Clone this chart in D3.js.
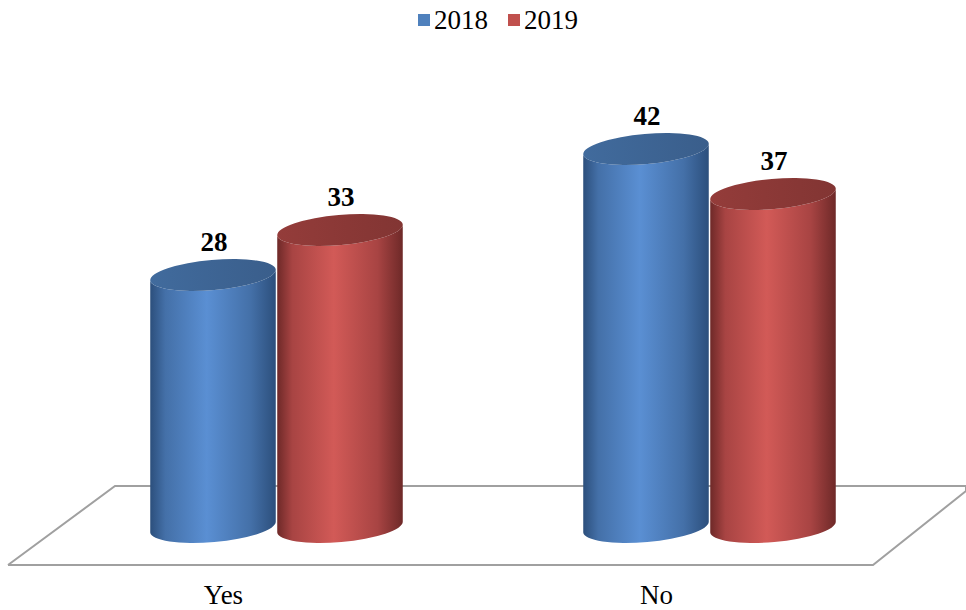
<!DOCTYPE html>
<html>
<head>
<meta charset="utf-8">
<script src="https://cdn.jsdelivr.net/npm/d3@7"></script>
<style>
  body { margin: 0; background: #fff; }
  svg text { font-family: "Liberation Serif", "Times New Roman", serif; }
</style>
</head>
<body>
<div id="chart"></div>
<script>
// data
const categories = ['Yes', 'No'];
const series = ['2018', '2019'];
const values2018 = [28, 42];
const values2019 = [33, 37];

const width = 966, height = 610;
const colors = {
  '2018': { dark: '#2c4f7c', light: '#5a8fd3', mid: '#4470a8', top: '#3e6595', legend: '#4f81bd' },
  '2019': { dark: '#6e2928', light: '#d25a57', mid: '#a84443', top: '#8c3937', legend: '#c0504d' }
};

const svg = d3.select('#chart').append('svg')
  .attr('width', width).attr('height', height);

const defs = svg.append('defs');
series.forEach(s => {
  const c = colors[s];
  const g = defs.append('linearGradient').attr('id', 'body' + s)
    .attr('x1', '0%').attr('x2', '100%').attr('y1', '0%').attr('y2', '0%');
  g.append('stop').attr('offset', '0%').attr('stop-color', c.dark);
  g.append('stop').attr('offset', '12%').attr('stop-color', c.mid);
  g.append('stop').attr('offset', '45%').attr('stop-color', c.light);
  g.append('stop').attr('offset', '80%').attr('stop-color', c.mid);
  g.append('stop').attr('offset', '100%').attr('stop-color', c.dark);
  const t = defs.append('linearGradient').attr('id', 'top' + s)
    .attr('x1', '0%').attr('x2', '100%').attr('y1', '0%').attr('y2', '0%');
  t.append('stop').attr('offset', '0%').attr('stop-color', d3.color(c.top).brighter(0.15));
  t.append('stop').attr('offset', '100%').attr('stop-color', d3.color(c.top).darker(0.2));
});

// scales
const x0 = d3.scaleBand().domain(categories).range([60, 926]);
const x1 = d3.scaleBand().domain(series).range([-127, 127]);
const baseY = 527;
const y = d3.scaleLinear().domain([0, 1]).range([0, 9]); // px per unit

// floor
const floor = [[8, 565], [873, 565], [966, 491], [966, 486], [115, 486], [8, 565]];
svg.append('path')
  .attr('d', d3.line()(floor))
  .attr('fill', 'none').attr('stroke', '#a0a0a0').attr('stroke-width', 2);

const rx = 63, ry = 15, tilt = -5;
const rad = tilt * Math.PI / 180;
const cosT = Math.cos(rad), sinT = Math.sin(rad);

function cylinder(g, cx, topY, botY, s) {
  const lx = cx - rx * cosT, rxp = cx + rx * cosT;
  const ldy = -rx * sinT, rdy = rx * sinT;
  const body = `M${lx},${topY + ldy} L${lx},${botY + ldy}` +
    ` A${rx},${ry} ${tilt} 0 0 ${rxp},${botY + rdy}` +
    ` L${rxp},${topY + rdy}` +
    ` A${rx},${ry} ${tilt} 0 1 ${lx},${topY + ldy} Z`;
  g.append('path').attr('d', body).attr('fill', `url(#body${s})`);
  g.append('ellipse')
    .attr('cx', cx).attr('cy', topY).attr('rx', rx).attr('ry', ry)
    .attr('transform', `rotate(${tilt},${cx},${topY})`)
    .attr('fill', `url(#top${s})`);
}

const vals = { '2018': values2018, '2019': values2019 };
categories.forEach((cat, i) => {
  const g = svg.append('g');
  series.forEach(s => {
    const v = vals[s][i];
    const cx = x0(cat) + x0.bandwidth() / 2 + x1(s) + x1.bandwidth() / 2;
    const topY = baseY - y(v);
    cylinder(g, cx, topY, baseY, s);
    svg.append('text')
      .attr('x', cx + 1).attr('y', topY - 24)
      .attr('text-anchor', 'middle')
      .attr('font-size', 27).attr('font-weight', 'bold')
      .text(v);
  });
  svg.append('text')
    .attr('x', x0(cat) + x0.bandwidth() / 2 - 53).attr('y', 604)
    .attr('text-anchor', 'middle').attr('font-size', 27)
    .text(cat);
});

// legend
const legend = svg.append('g');
const legX = [418, 508];
series.forEach((s, i) => {
  legend.append('rect').attr('x', legX[i]).attr('y', 14).attr('width', 12).attr('height', 12)
    .attr('fill', colors[s].legend);
  legend.append('text').attr('x', legX[i] + 16).attr('y', 29)
    .attr('font-size', 27).text(s);
});
</script>
</body>
</html>
